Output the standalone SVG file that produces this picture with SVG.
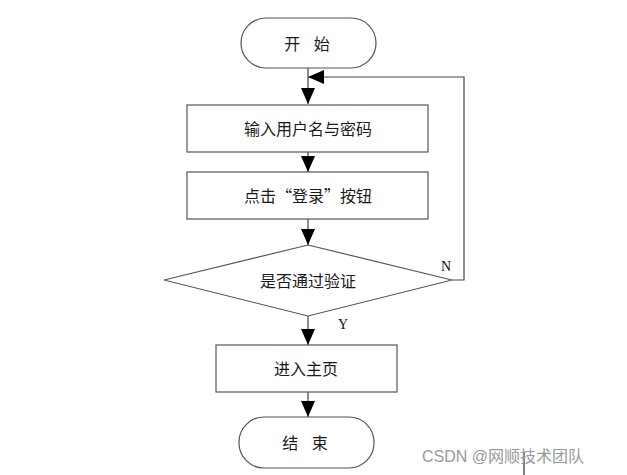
<svg xmlns="http://www.w3.org/2000/svg" width="627" height="475" viewBox="0 0 627 475">
<style>
.s{fill:#fff;stroke:#555;stroke-width:1.2}
.t{font-family:"Noto Sans CJK SC","Noto Sans",sans-serif;font-size:16px;fill:#1a1a1a;text-anchor:middle;dominant-baseline:central}
.l{fill:none;stroke:#444;stroke-width:1.2}
.lb{font-family:"Liberation Serif",serif;font-size:14px;fill:#111}
</style>
<defs>
<marker id="a" viewBox="0 0 16 14" refX="16" refY="7" markerWidth="16" markerHeight="14" markerUnits="userSpaceOnUse" orient="auto">
<path d="M0,0L16,7L0,14Z" fill="#000"/>
</marker>
</defs>
<rect width="627" height="475" fill="#fff"/>
<g id="connectors">
<line class="l" x1="308" y1="68" x2="308" y2="104" marker-end="url(#a)"/>
<line class="l" x1="308" y1="152" x2="308" y2="172" marker-end="url(#a)"/>
<line class="l" x1="308" y1="219" x2="308" y2="245" marker-end="url(#a)"/>
<line class="l" x1="308" y1="316" x2="308" y2="345" marker-end="url(#a)"/>
<line class="l" x1="308" y1="392" x2="308" y2="417" marker-end="url(#a)"/>
<polyline class="l" points="452,280 464,280 464,77 308,77" marker-end="url(#a)"/>
<text class="lb" x="441" y="271">N</text>
<text class="lb" x="338" y="329">Y</text>
</g>
<g id="start">
<rect class="s" x="241" y="18" width="135" height="50" rx="25" ry="25"/>
<text class="t" x="307" y="43" word-spacing="10">开 始</text>
</g>
<g id="input">
<rect class="s" x="187" y="105" width="241" height="47"/>
<text class="t" x="308" y="128">输入用户名与密码</text>
</g>
<g id="click">
<rect class="s" x="187" y="172" width="241" height="47"/>
<text class="t" x="308" y="195">点击“登录”按钮</text>
</g>
<g id="verify">
<polygon class="s" points="308,245 452,280 308,316 164,280"/>
<text class="t" x="308" y="280">是否通过验证</text>
</g>
<g id="home">
<rect class="s" x="216" y="345" width="181" height="47"/>
<text class="t" x="306" y="368">进入主页</text>
</g>
<g id="end">
<rect class="s" x="239" y="417" width="135" height="51" rx="25" ry="25"/>
<text class="t" x="305" y="442" word-spacing="10">结 束</text>
</g>
<line x1="524" y1="452" x2="524" y2="475" stroke="#000" stroke-width="1"/>
<text x="422" y="462" font-family="Liberation Sans,'Noto Sans CJK SC',sans-serif" font-size="16" fill="#999">CSDN @网顺技术团队</text>
</svg>
